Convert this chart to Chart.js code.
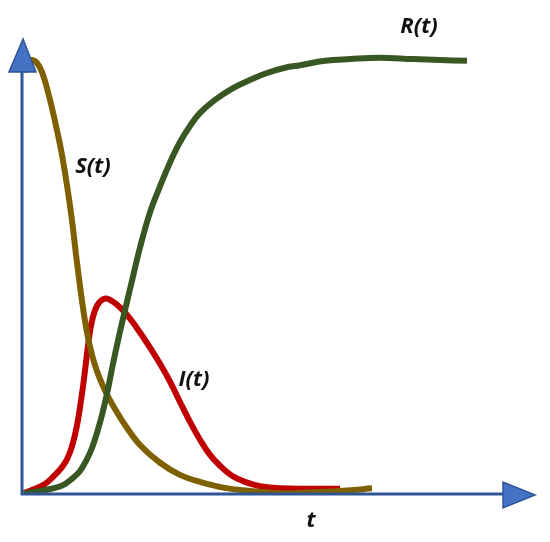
<!DOCTYPE html>
<html>
<head>
<meta charset="utf-8">
<script src="https://cdn.jsdelivr.net/npm/chart.js@4.4.1/dist/chart.umd.min.js"></script>
<style>
  html, body { margin: 0; padding: 0; background: #ffffff; }
  #wrap { width: 550px; height: 542px; }
</style>
</head>
<body>
<div id="wrap"><canvas id="c" width="550" height="542"></canvas></div>
<script>
// Time (arbitrary units) and population fractions
const S_t = [0.4, 1.2, 2.0, 3.0, 4.0, 5.0, 6.0, 7.0, 8.0, 9.0, 10.0, 11.0, 12.0, 13.0, 14.0, 15.0, 16.0, 17.0, 18.6, 20.6, 23.6, 27.6, 31.6, 35.6, 40.6, 45.6, 51.6, 58.2, 65.0, 70.0];
const S_v = [0.972, 0.995, 1.000, 0.993, 0.972, 0.935, 0.889, 0.838, 0.781, 0.711, 0.630, 0.533, 0.445, 0.372, 0.320, 0.283, 0.254, 0.229, 0.196, 0.159, 0.113, 0.072, 0.044, 0.028, 0.014, 0.007, 0.002, 0.004, 0.008, 0.013];

const I_t = [0.4, 2.6, 4.6, 6.6, 8.0, 9.0, 10.0, 11.0, 12.0, 12.6, 13.2, 13.8, 14.6, 15.6, 17.0, 19.6, 21.6, 23.6, 25.6, 27.6, 29.6, 31.6, 33.6, 35.6, 37.6, 39.6, 42.0, 44.6, 47.6, 51.6, 57.6, 63.6];
const I_v = [0.002, 0.012, 0.023, 0.044, 0.062, 0.080, 0.110, 0.158, 0.231, 0.284, 0.342, 0.388, 0.423, 0.443, 0.450, 0.430, 0.404, 0.372, 0.337, 0.300, 0.259, 0.212, 0.166, 0.125, 0.090, 0.065, 0.042, 0.028, 0.018, 0.013, 0.012, 0.012];

const R_t = [0.4, 3.6, 6.6, 8.6, 10.2, 11.6, 12.8, 14.0, 15.0, 16.0, 17.0, 18.2, 19.6, 21.0, 22.2, 23.6, 25.6, 27.6, 29.6, 31.6, 33.6, 35.6, 38.6, 42.2, 45.6, 49.0, 52.6, 55.6, 60.6, 65.6, 71.6, 78.2, 83.6, 89.0];
const R_v = [0.002, 0.007, 0.014, 0.023, 0.037, 0.053, 0.076, 0.106, 0.141, 0.182, 0.231, 0.300, 0.374, 0.443, 0.501, 0.568, 0.649, 0.709, 0.764, 0.811, 0.848, 0.878, 0.908, 0.935, 0.954, 0.970, 0.982, 0.988, 0.998, 1.002, 1.005, 1.002, 1.000, 0.998];

// Curve labels
const labelTexts = ['S(t)', 'I(t)', 'R(t)', 't'];
const labelT = [14.2, 34.4, 79.4, 57.8];
const labelV = [0.755, 0.263, 1.076, -0.062];

const pts = (xs, ys) => xs.map((x, i) => ({ x: x, y: ys[i] }));

const axisArrows = {
  id: 'axisArrows',
  afterDatasetsDraw(chart) {
    const ctx = chart.ctx;
    const a = chart.chartArea;
    ctx.save();
    ctx.strokeStyle = '#2F5597';
    ctx.lineWidth = 3;
    ctx.beginPath();
    ctx.moveTo(a.left, a.top + 30);
    ctx.lineTo(a.left, a.bottom);
    ctx.lineTo(a.right - 32, a.bottom);
    ctx.stroke();
    ctx.fillStyle = '#4472C4';
    ctx.lineWidth = 1.5;
    ctx.lineJoin = 'miter';
    // vertical arrow head
    ctx.beginPath();
    ctx.moveTo(a.left + 1, a.top - 1);
    ctx.lineTo(a.left + 14, a.top + 32);
    ctx.lineTo(a.left - 13, a.top + 32);
    ctx.closePath();
    ctx.fill(); ctx.stroke();
    // horizontal arrow head
    ctx.beginPath();
    ctx.moveTo(a.right, a.bottom + 1);
    ctx.lineTo(a.right - 32, a.bottom - 12);
    ctx.lineTo(a.right - 32, a.bottom + 14);
    ctx.closePath();
    ctx.fill(); ctx.stroke();
    ctx.restore();
  }
};

const curveLabels = {
  id: 'curveLabels',
  afterDraw(chart) {
    const ctx = chart.ctx;
    const xs = chart.scales.x, ys = chart.scales.y;
    ctx.save();
    ctx.fillStyle = '#111111';
    ctx.font = 'italic bold 22px "Open Sans", sans-serif';
    ctx.textAlign = 'center';
    ctx.textBaseline = 'middle';
    labelTexts.forEach((t, i) => {
      ctx.fillText(t, xs.getPixelForValue(labelT[i]), ys.getPixelForValue(labelV[i]));
    });
    ctx.restore();
  }
};

const common = { pointRadius: 0, borderWidth: 6, fill: false, tension: 0.4, borderCapStyle: 'butt', borderJoinStyle: 'round' };

new Chart(document.getElementById('c'), {
  type: 'line',
  data: {
    datasets: [
      Object.assign({ label: 'R(t)', data: pts(R_t, R_v), borderColor: '#385723' }, common),
      Object.assign({ label: 'S(t)', data: pts(S_t, S_v), borderColor: '#7F6000' }, common),
      Object.assign({ label: 'I(t)', data: pts(I_t, I_v), borderColor: '#C00000' }, common)
    ]
  },
  options: {
    responsive: false,
    animation: false,
    layout: { padding: { left: 22, right: 15, top: 40, bottom: 48 } },
    plugins: { legend: { display: false }, tooltip: { enabled: false } },
    scales: {
      x: { type: 'linear', min: 0, max: 102.6, display: false },
      y: { type: 'linear', min: 0, max: 1.046, display: false }
    }
  },
  plugins: [axisArrows, curveLabels]
});
</script>
</body>
</html>
